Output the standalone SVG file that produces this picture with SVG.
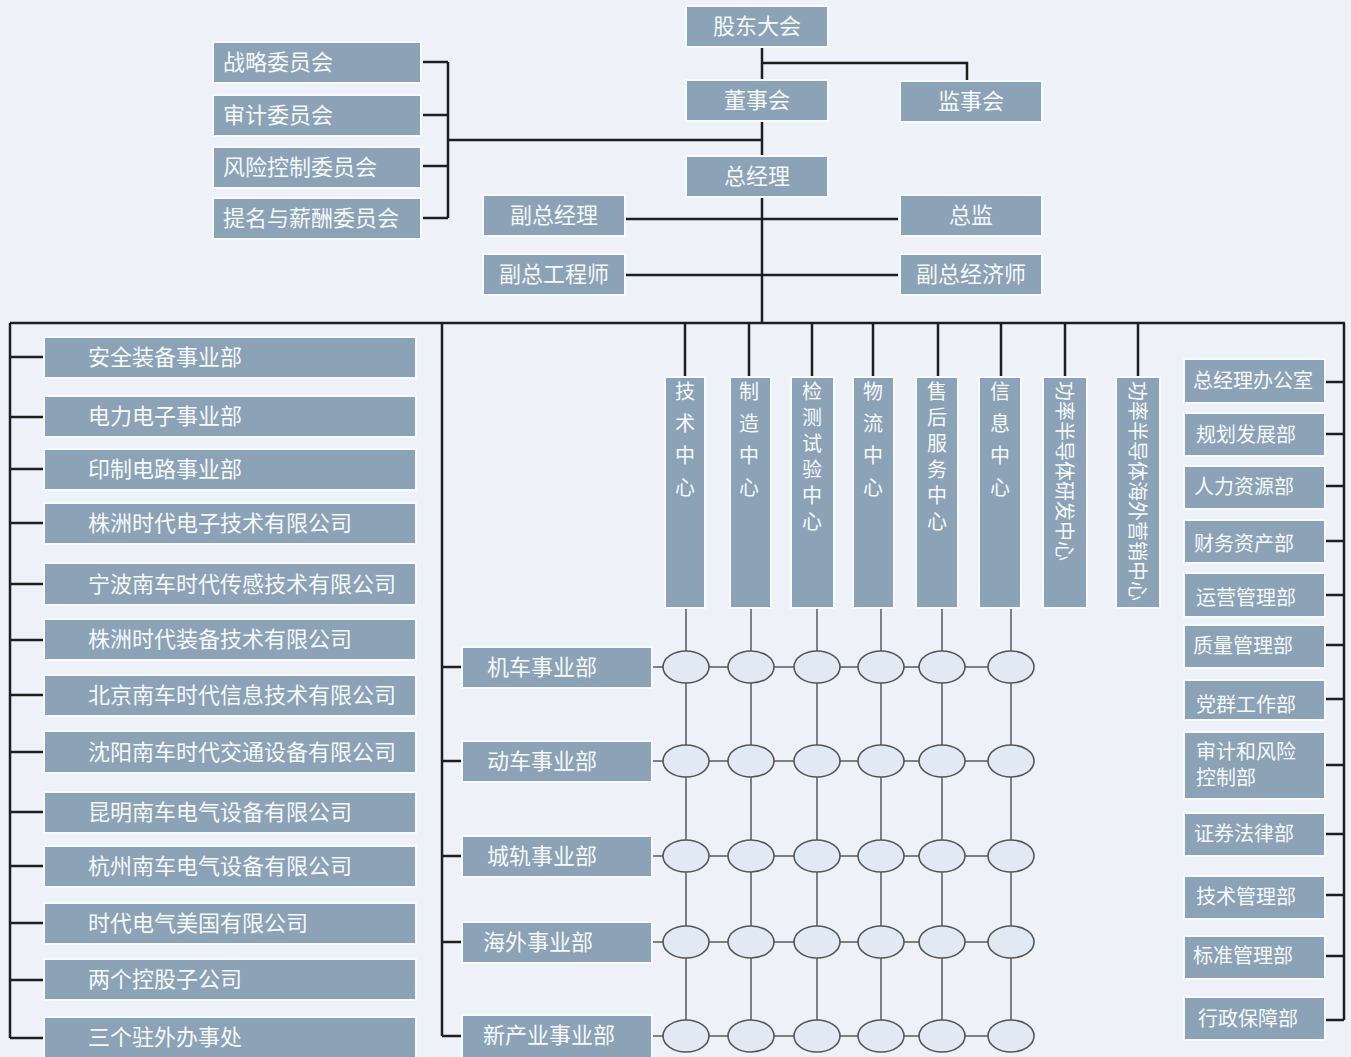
<svg xmlns="http://www.w3.org/2000/svg" width="1351" height="1057" viewBox="0 0 1351 1057">
<style>
.b{fill:#8ca2b6;stroke:#f7faff;stroke-width:2}
.t{font-family:"Noto Sans CJK SC","Noto Sans",sans-serif;font-size:22px;fill:#f6f9fc}
.s{font-size:20px}
.c{text-anchor:middle}
.ln{stroke:#1e1e1e;stroke-width:2.5;fill:none}
.g{stroke:#5a5a5a;stroke-width:1.5;fill:none}
.e{fill:#e1eaf4;stroke:#555;stroke-width:1.6}
</style>
<rect width="1351" height="1057" fill="#eef2f8"/>
<g id="connectors">
<path class="ln" d="M762 47V80M762 63H967V81M762 121V156M448 140H762M762 197V323M625 219H898M625 275H898"/>
<path class="ln" d="M423 62H448M423 115H448M423 166H448M423 218H448M448 62V218"/>
<path class="ln" d="M10 323H1345M10 323V1038M442 323V1036"/>
<path class="ln" d="M10 357H44M10 417H44M10 469H44M10 523H44M10 584H44M10 640H44M10 695H44M10 752H44M10 812H44M10 866H44M10 923H44M10 980H44M10 1038H44"/>
<path class="ln" d="M442 667H462M442 761H462M442 856H462M442 942H462M442 1036H462"/>
<path class="ln" d="M685 323V377M749 323V377M812 323V377M873 323V377M938 323V377M1001 323V377M1065 323V377M1138 323V377"/>
<path class="ln" d="M1344 323V1020M1325 382H1344M1325 434H1344M1325 486H1344M1325 541H1344M1325 595H1344M1325 645H1344M1325 699H1344M1325 765H1344M1325 834H1344M1325 895H1344M1325 956H1344M1325 1020H1344"/>
<path class="g" d="M686 608V1036M751 608V1036M817 608V1036M881 608V1036M942 608V1036M1011 608V1036"/>
<path class="g" d="M652 667H1011M652 761H1011M652 856H1011M652 942H1011M652 1036H1011"/>
</g>
<g id="ellipses">
<g id="row1"><ellipse class="e" cx="686" cy="667" rx="23" ry="16"/><ellipse class="e" cx="751" cy="667" rx="23" ry="16"/><ellipse class="e" cx="817" cy="667" rx="23" ry="16"/><ellipse class="e" cx="881" cy="667" rx="23" ry="16"/><ellipse class="e" cx="942" cy="667" rx="23" ry="16"/><ellipse class="e" cx="1011" cy="667" rx="23" ry="16"/></g>
<g id="row2"><ellipse class="e" cx="686" cy="761" rx="23" ry="16"/><ellipse class="e" cx="751" cy="761" rx="23" ry="16"/><ellipse class="e" cx="817" cy="761" rx="23" ry="16"/><ellipse class="e" cx="881" cy="761" rx="23" ry="16"/><ellipse class="e" cx="942" cy="761" rx="23" ry="16"/><ellipse class="e" cx="1011" cy="761" rx="23" ry="16"/></g>
<g id="row3"><ellipse class="e" cx="686" cy="856" rx="23" ry="16"/><ellipse class="e" cx="751" cy="856" rx="23" ry="16"/><ellipse class="e" cx="817" cy="856" rx="23" ry="16"/><ellipse class="e" cx="881" cy="856" rx="23" ry="16"/><ellipse class="e" cx="942" cy="856" rx="23" ry="16"/><ellipse class="e" cx="1011" cy="856" rx="23" ry="16"/></g>
<g id="row4"><ellipse class="e" cx="686" cy="942" rx="23" ry="16"/><ellipse class="e" cx="751" cy="942" rx="23" ry="16"/><ellipse class="e" cx="817" cy="942" rx="23" ry="16"/><ellipse class="e" cx="881" cy="942" rx="23" ry="16"/><ellipse class="e" cx="942" cy="942" rx="23" ry="16"/><ellipse class="e" cx="1011" cy="942" rx="23" ry="16"/></g>
<g id="row5"><ellipse class="e" cx="686" cy="1036" rx="23" ry="16"/><ellipse class="e" cx="751" cy="1036" rx="23" ry="16"/><ellipse class="e" cx="817" cy="1036" rx="23" ry="16"/><ellipse class="e" cx="881" cy="1036" rx="23" ry="16"/><ellipse class="e" cx="942" cy="1036" rx="23" ry="16"/><ellipse class="e" cx="1011" cy="1036" rx="23" ry="16"/></g>
</g>
<g id="n-gdh"><rect class="b" x="686" y="6" width="142" height="41"/><text class="t c" x="757" y="34">股东大会</text></g>
<g id="n-dsh"><rect class="b" x="686" y="80" width="142" height="41"/><text class="t c" x="757" y="108">董事会</text></g>
<g id="n-jsh"><rect class="b" x="900" y="81" width="142" height="41"/><text class="t c" x="971" y="109">监事会</text></g>
<g id="n-zjl"><rect class="b" x="686" y="156" width="142" height="41"/><text class="t c" x="757" y="184">总经理</text></g>
<g id="n-fzjl"><rect class="b" x="483" y="195" width="142" height="41"/><text class="t c" x="554" y="223">副总经理</text></g>
<g id="n-zj"><rect class="b" x="900" y="195" width="142" height="41"/><text class="t c" x="971" y="223">总监</text></g>
<g id="n-fzgcs"><rect class="b" x="483" y="254" width="142" height="41"/><text class="t c" x="554" y="282">副总工程师</text></g>
<g id="n-fzjjs"><rect class="b" x="900" y="254" width="142" height="41"/><text class="t c" x="971" y="282">副总经济师</text></g>
<g id="n-zl"><rect class="b" x="213" y="42" width="208" height="41"/><text class="t" x="223" y="70">战略委员会</text></g>
<g id="n-sj"><rect class="b" x="213" y="95" width="208" height="41"/><text class="t" x="223" y="123">审计委员会</text></g>
<g id="n-fx"><rect class="b" x="213" y="147" width="208" height="41"/><text class="t" x="223" y="175">风险控制委员会</text></g>
<g id="n-tm"><rect class="b" x="213" y="198" width="208" height="41"/><text class="t" x="223" y="226">提名与薪酬委员会</text></g>
<g id="left-units">
<g id="l1"><rect class="b" x="44" y="337" width="372" height="41"/><text class="t" x="88" y="365">安全装备事业部</text></g>
<g id="l2"><rect class="b" x="44" y="396" width="372" height="41"/><text class="t" x="88" y="424">电力电子事业部</text></g>
<g id="l3"><rect class="b" x="44" y="449" width="372" height="41"/><text class="t" x="88" y="477">印制电路事业部</text></g>
<g id="l4"><rect class="b" x="44" y="503" width="372" height="41"/><text class="t" x="88" y="531">株洲时代电子技术有限公司</text></g>
<g id="l5"><rect class="b" x="44" y="563" width="372" height="42"/><text class="t" x="88" y="592">宁波南车时代传感技术有限公司</text></g>
<g id="l6"><rect class="b" x="44" y="619" width="372" height="41"/><text class="t" x="88" y="647">株洲时代装备技术有限公司</text></g>
<g id="l7"><rect class="b" x="44" y="675" width="372" height="41"/><text class="t" x="88" y="703">北京南车时代信息技术有限公司</text></g>
<g id="l8"><rect class="b" x="44" y="731" width="372" height="42"/><text class="t" x="88" y="760">沈阳南车时代交通设备有限公司</text></g>
<g id="l9"><rect class="b" x="44" y="792" width="372" height="41"/><text class="t" x="88" y="820">昆明南车电气设备有限公司</text></g>
<g id="l10"><rect class="b" x="44" y="846" width="372" height="41"/><text class="t" x="88" y="874">杭州南车电气设备有限公司</text></g>
<g id="l11"><rect class="b" x="44" y="903" width="372" height="41"/><text class="t" x="88" y="931">时代电气美国有限公司</text></g>
<g id="l12"><rect class="b" x="44" y="959" width="372" height="41"/><text class="t" x="88" y="987">两个控股子公司</text></g>
<g id="l13"><rect class="b" x="44" y="1017" width="372" height="45"/><text class="t" x="88" y="1045">三个驻外办事处</text></g>
</g>
<g id="mid-units">
<g id="m1"><rect class="b" x="462" y="647" width="190" height="41"/><text class="t" x="487" y="675">机车事业部</text></g>
<g id="m2"><rect class="b" x="462" y="741" width="190" height="41"/><text class="t" x="487" y="769">动车事业部</text></g>
<g id="m3"><rect class="b" x="462" y="836" width="190" height="41"/><text class="t" x="487" y="864">城轨事业部</text></g>
<g id="m4"><rect class="b" x="462" y="922" width="190" height="41"/><text class="t" x="483" y="950">海外事业部</text></g>
<g id="m5"><rect class="b" x="462" y="1015" width="190" height="45"/><text class="t" x="483" y="1043">新产业事业部</text></g>
</g>
<g id="centers">
<g id="c1"><rect class="b" x="665" y="377" width="40" height="231"/><text class="t s c"><tspan x="685" y="399">技</tspan><tspan x="685" y="431">术</tspan><tspan x="685" y="463">中</tspan><tspan x="685" y="495">心</tspan></text></g>
<g id="c2"><rect class="b" x="730" y="377" width="41" height="231"/><text class="t s c"><tspan x="749" y="399">制</tspan><tspan x="749" y="431">造</tspan><tspan x="749" y="463">中</tspan><tspan x="749" y="495">心</tspan></text></g>
<g id="c3"><rect class="b" x="791" y="377" width="43" height="231"/><text class="t s c"><tspan x="812" y="399">检</tspan><tspan x="812" y="425">测</tspan><tspan x="812" y="451">试</tspan><tspan x="812" y="477">验</tspan><tspan x="812" y="503">中</tspan><tspan x="812" y="529">心</tspan></text></g>
<g id="c4"><rect class="b" x="853" y="377" width="41" height="231"/><text class="t s c"><tspan x="873" y="399">物</tspan><tspan x="873" y="431">流</tspan><tspan x="873" y="463">中</tspan><tspan x="873" y="495">心</tspan></text></g>
<g id="c5"><rect class="b" x="916" y="377" width="42" height="231"/><text class="t s c"><tspan x="937" y="399">售</tspan><tspan x="937" y="425">后</tspan><tspan x="937" y="451">服</tspan><tspan x="937" y="477">务</tspan><tspan x="937" y="503">中</tspan><tspan x="937" y="529">心</tspan></text></g>
<g id="c6"><rect class="b" x="979" y="377" width="42" height="231"/><text class="t s c"><tspan x="1000" y="399">信</tspan><tspan x="1000" y="431">息</tspan><tspan x="1000" y="463">中</tspan><tspan x="1000" y="495">心</tspan></text></g>
<g id="c7"><rect class="b" x="1043" y="377" width="44" height="231"/><text class="t s" transform="translate(1065,381) rotate(90)" dominant-baseline="central">功率半导体研发中心</text></g>
<g id="c8"><rect class="b" x="1116" y="377" width="44" height="231"/><text class="t s" transform="translate(1138,381) rotate(90)" dominant-baseline="central">功率半导体海外营销中心</text></g>
</g>
<g id="right-depts">
<g id="r1"><rect class="b" x="1184" y="359" width="141" height="44"/><text class="t s" x="1193" y="388">总经理办公室</text></g>
<g id="r2"><rect class="b" x="1184" y="413" width="141" height="43"/><text class="t s" x="1196" y="442">规划发展部</text></g>
<g id="r3"><rect class="b" x="1184" y="466" width="141" height="43"/><text class="t s" x="1194" y="494">人力资源部</text></g>
<g id="r4"><rect class="b" x="1184" y="520" width="141" height="43"/><text class="t s" x="1194" y="551">财务资产部</text></g>
<g id="r5"><rect class="b" x="1184" y="573" width="141" height="44"/><text class="t s" x="1196" y="605">运营管理部</text></g>
<g id="r6"><rect class="b" x="1184" y="625" width="141" height="43"/><text class="t s" x="1193" y="653">质量管理部</text></g>
<g id="r7"><rect class="b" x="1184" y="680" width="141" height="40"/><text class="t s" x="1196" y="712">党群工作部</text></g>
<g id="r8"><rect class="b" x="1184" y="732" width="141" height="67"/><text class="t s"><tspan x="1196" y="759">审计和风险</tspan><tspan x="1196" y="785">控制部</tspan></text></g>
<g id="r9"><rect class="b" x="1184" y="813" width="141" height="43"/><text class="t s" x="1194" y="841">证券法律部</text></g>
<g id="r10"><rect class="b" x="1184" y="876" width="141" height="43"/><text class="t s" x="1196" y="904">技术管理部</text></g>
<g id="r11"><rect class="b" x="1184" y="936" width="141" height="43"/><text class="t s" x="1193" y="963">标准管理部</text></g>
<g id="r12"><rect class="b" x="1184" y="997" width="141" height="43"/><text class="t s" x="1198" y="1026">行政保障部</text></g>
</g>
</svg>
